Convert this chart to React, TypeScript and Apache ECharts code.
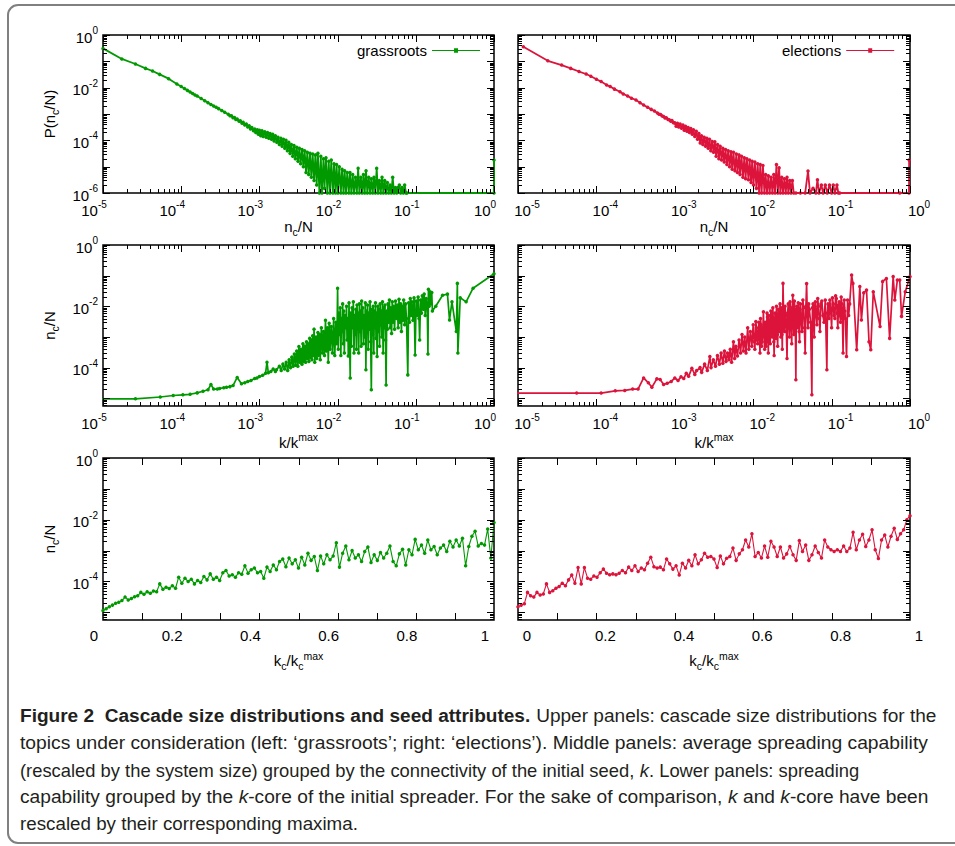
import React, { useEffect, useRef } from 'react';
import * as echarts from 'echarts';

// ---------------- colours / fonts ----------------
const GREEN = '#009a00';
const RED = '#dc143c';
const FONT = '"Liberation Sans", Arial, Helvetica, sans-serif';
const CAP_FAMILY = '"Liberation Sans Narrow", "Liberation Sans", Arial, sans-serif';

// ---------------- data ----------------
// Upper panels: cascade size distribution P(n_c/N) vs n_c/N
const grassrootsSizeDist: number[][] = [
  [1e-5, 0.31], [1.74e-5, 0.123], [2.6e-5, 0.079], [3.5e-5, 0.054], [4.3e-5, 0.043], [5.3e-5, 0.032], [6.9e-5, 0.022], [8.8e-5, 0.0138],
  [1e-4, 0.011], [1.1e-4, 0.0093], [1.2e-4, 0.0079], [1.3e-4, 0.0069], [1.4e-4, 0.006], [1.5e-4, 0.0053], [1.6e-4, 0.0048], [1.8e-4, 0.0039],
  [2e-4, 0.0032], [2.2e-4, 0.0027], [2.4e-4, 0.0023], [2.6e-4, 0.002], [2.8e-4, 0.0018], [3e-4, 0.0016], [3.3e-4, 0.00136], [3.6e-4, 0.00117],
  [4e-4, 0.00098], [4.2e-4, 0.00086], [4.4e-4, 0.00085], [4.6e-4, 0.00072], [4.8e-4, 0.00073], [5e-4, 0.00062], [5.2e-4, 0.00064], [5.5e-4, 0.00053],
  [5.7e-4, 0.00055], [6e-4, 0.00045], [6.2e-4, 0.00049], [6.5e-4, 0.00038], [6.8e-4, 0.00042], [7.1e-4, 0.00032], [7.4e-4, 0.00036], [7.7e-4, 0.00027],
  [8e-4, 0.00031], [8.4e-4, 0.00023], [8.7e-4, 0.00027], [9e-4, 0.0002], [9.4e-4, 0.00025], [9.7e-4, 0.00017],
  [1e-3, 2.4e-4], [1.04e-3, 1.5e-4], [1.08e-3, 2.3e-4], [1.12e-3, 1.4e-4], [1.17e-3, 2.1e-4], [1.22e-3, 1.3e-4], [1.27e-3, 2.0e-4], [1.32e-3, 1.2e-4],
  [1.37e-3, 1.8e-4], [1.43e-3, 1.1e-4], [1.48e-3, 1.7e-4], [1.54e-3, 9.5e-5], [1.6e-3, 1.5e-4], [1.67e-3, 8.5e-5], [1.73e-3, 1.3e-4], [1.8e-3, 7e-5],
  [1.88e-3, 1.2e-4], [1.95e-3, 6e-5], [2.03e-3, 1.1e-4], [2.11e-3, 5e-5], [2.19e-3, 1e-4], [2.28e-3, 4e-5], [2.37e-3, 8.5e-5], [2.47e-3, 3.2e-5],
  [2.56e-3, 7e-5], [2.67e-3, 2.5e-5], [2.77e-3, 6.3e-5], [2.88e-3, 2e-5], [3e-3, 5.5e-5], [3.12e-3, 1.6e-5], [3.24e-3, 5e-5], [3.37e-3, 1.3e-5],
  [3.51e-3, 4.5e-5], [3.65e-3, 1e-5], [3.79e-3, 4e-5], [3.95e-3, 6e-6], [4.1e-3, 3.5e-5], [4.27e-3, 5e-6], [4.44e-3, 3.2e-5], [4.62e-3, 4e-6],
  [4.8e-3, 3e-5], [5e-3, 3e-6], [5.2e-3, 2.8e-5], [5.4e-3, 2e-6], [5.6e-3, 3.2e-5], [5.85e-3, 1e-6], [6.1e-3, 2.5e-5], [6.3e-3, 1e-6],
  [6.6e-3, 2e-5], [6.8e-3, 1.5e-6], [7.1e-3, 2.2e-5], [7.4e-3, 1e-6], [7.7e-3, 1.6e-5], [8e-3, 1e-6], [8.3e-3, 1.8e-5], [8.7e-3, 1e-6],
  [9e-3, 1.3e-5], [9.4e-3, 1e-6], [9.7e-3, 1.2e-5], [1.01e-2, 1e-6], [1.05e-2, 1e-5], [1.1e-2, 1e-6], [1.14e-2, 8e-6], [1.19e-2, 1e-6],
  [1.23e-2, 7e-6], [1.28e-2, 1e-6], [1.33e-2, 6e-6], [1.39e-2, 1e-6], [1.44e-2, 6e-6], [1.5e-2, 1e-6], [1.56e-2, 5e-6], [1.62e-2, 1e-6],
  [1.69e-2, 4e-6], [1.76e-2, 1e-6], [1.83e-2, 8.7e-6], [1.9e-2, 1e-6], [1.98e-2, 4e-6], [2.06e-2, 1e-6], [2.14e-2, 5e-6], [2.22e-2, 1e-6],
  [2.31e-2, 7e-6], [2.4e-2, 1e-6], [2.5e-2, 4e-6], [2.6e-2, 1e-6], [2.7e-2, 3.5e-6], [2.81e-2, 1e-6], [2.92e-2, 4e-6], [3.04e-2, 1e-6],
  [3.16e-2, 8.7e-6], [3.29e-2, 1e-6], [3.42e-2, 3e-6], [3.56e-2, 1e-6], [3.7e-2, 4e-6], [3.85e-2, 1e-6], [4e-2, 3e-6], [4.16e-2, 1e-6],
  [4.33e-2, 2.5e-6], [4.5e-2, 1e-6], [4.68e-2, 2e-6], [4.87e-2, 1e-6], [5.06e-2, 4e-6], [5.27e-2, 1e-6], [5.48e-2, 1.6e-6], [5.7e-2, 1e-6],
  [5.92e-2, 1.6e-6], [6.16e-2, 2e-6], [6.4e-2, 1e-6], [6.66e-2, 1.6e-6], [6.93e-2, 1e-6], [7.2e-2, 2e-6], [7.5e-2, 1e-6], [7.7e-2, 1e-6],
  [1, 1e-6], [1, 1.8e-5],
];

const electionsSizeDist: number[][] = [
  [1.17e-5, 0.36], [2.4e-5, 0.105], [3.6e-5, 0.072], [4.7e-5, 0.054], [6e-5, 0.041], [7.4e-5, 0.033], [8.5e-5, 0.027], [1e-4, 0.021],
  [1.15e-4, 0.017], [1.35e-4, 0.0126], [1.5e-4, 0.011], [1.7e-4, 0.0088], [2e-4, 0.007], [2.2e-4, 0.0058], [2.5e-4, 0.0048], [2.8e-4, 0.004],
  [3.2e-4, 0.0034], [3.6e-4, 0.0027], [4e-4, 0.0022], [4.5e-4, 0.0018], [5e-4, 0.0015], [5.5e-4, 0.0013], [6e-4, 0.0011], [6.3e-4, 0.00098],
  [6.6e-4, 0.00095], [6.9e-4, 0.00084], [7.2e-4, 0.0008], [7.5e-4, 0.00071], [7.8e-4, 0.00072], [8.2e-4, 0.00062], [8.5e-4, 0.00061], [8.9e-4, 0.00053],
  [9.2e-4, 0.00057], [9.6e-4, 0.00047],
  [1e-3, 4.6e-4], [1.04e-3, 3.4e-4], [1.08e-3, 4.4e-4], [1.12e-3, 3.2e-4], [1.17e-3, 4.2e-4], [1.22e-3, 2.9e-4], [1.27e-3, 3.8e-4], [1.32e-3, 2.4e-4],
  [1.37e-3, 3.4e-4], [1.43e-3, 2.2e-4], [1.48e-3, 3.1e-4], [1.54e-3, 2e-4], [1.6e-3, 2.8e-4], [1.67e-3, 1.7e-4], [1.73e-3, 2.5e-4], [1.8e-3, 1.4e-4],
  [1.88e-3, 2.2e-4], [1.95e-3, 1.1e-4], [2.03e-3, 1.8e-4], [2.11e-3, 8e-5], [2.19e-3, 1.5e-4], [2.28e-3, 7e-5], [2.37e-3, 1.3e-4], [2.47e-3, 6e-5],
  [2.56e-3, 1.2e-4], [2.67e-3, 5e-5], [2.77e-3, 1.1e-4], [2.88e-3, 4e-5], [3e-3, 9e-5], [3.12e-3, 3.5e-5], [3.24e-3, 8.9e-5], [3.37e-3, 2.5e-5],
  [3.51e-3, 7e-5], [3.65e-3, 2e-5], [3.79e-3, 6e-5], [3.95e-3, 1.8e-5], [4.1e-3, 5e-5], [4.27e-3, 1.5e-5], [4.44e-3, 4.5e-5], [4.62e-3, 1.2e-5],
  [4.8e-3, 4e-5], [5e-3, 1e-5], [5.2e-3, 3.7e-5], [5.4e-3, 8e-6], [5.6e-3, 3.5e-5], [5.85e-3, 7e-6], [6.1e-3, 3e-5], [6.3e-3, 6e-6],
  [6.6e-3, 2.8e-5], [6.8e-3, 5e-6], [7.1e-3, 2.5e-5], [7.4e-3, 4e-6], [7.7e-3, 2.2e-5], [8e-3, 3.5e-6], [8.3e-3, 2e-5], [8.7e-3, 3.2e-6],
  [9e-3, 1.8e-5], [9.4e-3, 2.5e-6], [9.7e-3, 1.6e-5], [1.01e-2, 2e-6], [1.05e-2, 1.5e-5], [1.1e-2, 1.5e-6], [1.14e-2, 1.3e-5], [1.19e-2, 1e-6],
  [1.23e-2, 1.2e-5], [1.28e-2, 1e-6], [1.33e-2, 1.1e-5], [1.39e-2, 1e-6], [1.44e-2, 5e-6], [1.5e-2, 1e-6], [1.56e-2, 4.5e-6], [1.62e-2, 1e-6],
  [1.69e-2, 4e-6], [1.76e-2, 1e-6], [1.83e-2, 5e-6], [1.9e-2, 1e-6], [1.98e-2, 1.2e-5], [2.06e-2, 1e-6], [2.14e-2, 9e-6], [2.22e-2, 1e-6],
  [2.31e-2, 4e-6], [2.4e-2, 1e-6], [2.5e-2, 3.5e-6], [2.6e-2, 1e-6], [2.7e-2, 4e-6], [2.81e-2, 1e-6], [2.92e-2, 3e-6], [3.04e-2, 1e-6],
  [3.16e-2, 3e-6], [3.29e-2, 1e-6], [3.5e-2, 1e-6], [4e-2, 1e-6], [4.6e-2, 1e-6], [5e-2, 6.8e-6], [5.3e-2, 1e-6], [5.8e-2, 1.5e-6],
  [6.3e-2, 1e-6], [6.6e-2, 3.2e-6], [6.9e-2, 1e-6], [7.4e-2, 2e-6], [7.8e-2, 1e-6], [8.3e-2, 2e-6], [8.8e-2, 1e-6], [9.4e-2, 2e-6],
  [0.1, 1e-6], [0.105, 2e-6], [0.11, 1e-6], [0.117, 2e-6], [0.122, 1e-6], [0.127, 1e-6], [0.74, 1e-6], [0.97, 1e-6], [0.975, 1.8e-5],
];

// Middle panels: n_c/N vs k/k^max
const grassrootsByDegree: number[][] = [
  [8e-6, 9.5e-6], [2.6e-5, 9.6e-6], [5.4e-5, 1.1e-5], [7.9e-5, 1.23e-5], [1.05e-4, 1.3e-5], [1.3e-4, 1.35e-5], [1.6e-4, 1.5e-5], [1.9e-4, 1.7e-5],
  [2.2e-4, 1.9e-5], [2.4e-4, 2.8e-5], [2.6e-4, 2e-5], [2.9e-4, 2e-5], [3.1e-4, 2.1e-5], [3.5e-4, 2.2e-5], [3.8e-4, 2.3e-5], [4.2e-4, 2.4e-5],
  [4.6e-4, 2.6e-5], [5.2e-4, 4.8e-5], [5.9e-4, 3e-5], [6.5e-4, 3.2e-5], [7.1e-4, 3.5e-5], [7.8e-4, 3.8e-5], [8.7e-4, 4.4e-5], [9.3e-4, 4.6e-5],
  [1e-3, 5.1e-5], [1.1e-3, 5.6e-5], [1.2e-3, 6.6e-5], [1.25e-3, 1.5e-4], [1.3e-3, 6.8e-5], [1.4e-3, 7.5e-5], [1.5e-3, 9e-5], [1.6e-3, 7.5e-5],
  [1.65e-3, 8.5e-5], [1.8e-3, 1.1e-4], [1.9e-3, 8e-5], [2e-3, 1.3e-4], [2.1e-3, 9e-5], [2.2e-3, 1.5e-4], [2.3e-3, 8e-5], [2.4e-3, 1.8e-4],
  [2.5e-3, 1e-4], [2.6e-3, 2.2e-4], [2.7e-3, 1.1e-4], [2.8e-3, 2.8e-4], [2.9e-3, 1.2e-4], [3e-3, 3.5e-4], [3.1e-3, 1.1e-4], [3.2e-3, 4.9e-4],
  [3.3e-3, 1.5e-4], [3.4e-3, 4e-4], [3.5e-3, 1.3e-4], [3.6e-3, 6e-4], [3.7e-3, 1.6e-4], [3.8e-3, 5e-4], [3.9e-3, 1.5e-4], [4e-3, 7e-4],
  [4.1e-3, 2e-4], [4.2e-3, 6e-4], [4.3e-3, 1.6e-4], [4.4e-3, 9e-4], [4.5e-3, 2.2e-4], [4.6e-3, 8e-4], [4.7e-3, 1.8e-4], [4.8e-3, 1.1e-3],
  [4.9e-3, 2.5e-4], [5e-3, 1.8e-3], [5.1e-3, 1.5e-4], [5.3e-3, 1e-3], [5.4e-3, 2e-4], [5.6e-3, 1.4e-3], [5.7e-3, 2.5e-4], [5.9e-3, 1.2e-3],
  [6e-3, 1.8e-4], [6.2e-3, 2e-3], [6.4e-3, 3e-4], [6.6e-3, 1.5e-3], [6.8e-3, 2.5e-4], [7e-3, 3.5e-3], [7.2e-3, 3.5e-4], [7.4e-3, 2e-3],
  [7.6e-3, 1.5e-4], [7.8e-3, 2.8e-3], [8e-3, 4e-4], [8.3e-3, 2.2e-3], [8.6e-3, 3e-4], [8.9e-3, 4e-3], [9.2e-3, 2.5e-4], [9.5e-3, 3e-3],
  [9.8e-3, 6e-4], [1e-2, 3.9e-2], [1.02e-2, 4e-4], [1.04e-2, 6e-3], [1.06e-2, 1.2e-3], [1.08e-2, 9e-3], [1.1e-2, 2.5e-4], [1.12e-2, 4e-3],
  [1.14e-2, 1.5e-3], [1.16e-2, 1.2e-2], [1.18e-2, 6e-4], [1.2e-2, 7e-3], [1.22e-2, 3e-4], [1.25e-2, 5e-3], [1.27e-2, 2e-3], [1.3e-2, 1e-2],
  [1.32e-2, 8e-4], [1.35e-2, 4e-3], [1.37e-2, 2.4e-4], [1.4e-2, 1.3e-2], [1.42e-2, 1e-3], [1.45e-2, 4.6e-5], [1.47e-2, 6e-3], [1.5e-2, 5e-4],
  [1.53e-2, 9e-3], [1.56e-2, 2e-3], [1.59e-2, 1.4e-2], [1.62e-2, 3e-4], [1.65e-2, 5e-3], [1.68e-2, 1.2e-3], [1.71e-2, 8e-3], [1.74e-2, 4e-4],
  [1.77e-2, 1.1e-2], [1.8e-2, 2.5e-3], [1.83e-2, 6e-3], [1.86e-2, 3e-4], [1.9e-2, 1.2e-2], [1.93e-2, 1.5e-3], [1.96e-2, 7e-3], [2e-2, 5e-4],
  [2.03e-2, 1.5e-2], [2.07e-2, 2e-3], [2.1e-2, 9e-3], [2.14e-2, 6e-4], [2.18e-2, 5e-3], [2.22e-2, 1e-3], [2.26e-2, 1.3e-2], [2.3e-2, 8.5e-5],
  [2.34e-2, 7e-3], [2.38e-2, 2.5e-3], [2.42e-2, 1.1e-2], [2.46e-2, 4e-4], [2.5e-2, 6e-3], [2.55e-2, 1.8e-3], [2.6e-2, 1.4e-2], [2.65e-2, 7e-4],
  [2.7e-2, 1.9e-5], [2.75e-2, 8e-3], [2.8e-2, 1.2e-3], [2.85e-2, 1e-2], [2.9e-2, 3e-4], [2.95e-2, 7e-3], [3e-2, 2e-3], [3.05e-2, 1.3e-2],
  [3.1e-2, 9e-4], [3.15e-2, 6e-3], [3.2e-2, 2.3e-4], [3.26e-2, 1e-2], [3.32e-2, 1.5e-3], [3.38e-2, 8e-3], [3.44e-2, 5e-4], [3.5e-2, 1.2e-2],
  [3.56e-2, 2.5e-3], [3.62e-2, 7e-3], [3.68e-2, 1e-3], [3.75e-2, 1.4e-2], [3.82e-2, 3e-4], [3.89e-2, 9e-3], [3.96e-2, 2e-3], [4.03e-2, 1.1e-2],
  [4.1e-2, 8e-4], [4.17e-2, 2.7e-5], [4.25e-2, 7e-3], [4.33e-2, 1.8e-3], [4.41e-2, 1.2e-2], [4.5e-2, 3e-3], [4.6e-2, 1.6e-2], [4.7e-2, 2e-3],
  [4.8e-2, 9e-3], [4.9e-2, 1.3e-3], [5e-2, 1.4e-2], [5.1e-2, 3e-3], [5.2e-2, 1e-2], [5.35e-2, 1.8e-3], [5.5e-2, 1.5e-2], [5.65e-2, 4e-3],
  [5.8e-2, 1.1e-2], [5.95e-2, 2e-3], [6.1e-2, 1.7e-2], [6.25e-2, 3e-3], [6.4e-2, 1.2e-2], [6.55e-2, 1.5e-3], [6.7e-2, 1e-2], [6.85e-2, 3.5e-3],
  [7e-2, 1.6e-2], [7.2e-2, 2.5e-3], [7.4e-2, 1.2e-2], [7.6e-2, 4e-3], [7.9e-2, 5.8e-5], [8.1e-2, 1.3e-2], [8.3e-2, 3e-3], [8.5e-2, 1.8e-2],
  [8.7e-2, 5e-3], [8.9e-2, 1.4e-2], [9.2e-2, 3.5e-3], [9.5e-2, 1.9e-2], [9.8e-2, 2.6e-4], [0.101, 1.5e-2], [0.104, 5e-3], [0.107, 2e-2],
  [0.11, 4e-3], [0.112, 8e-4], [0.115, 1.6e-2], [0.118, 6e-3], [0.121, 2.2e-2], [0.125, 8e-3], [0.128, 2.5e-2], [0.132, 5e-3],
  [0.136, 1.8e-2], [0.14, 1e-2], [0.143, 2.8e-4], [0.145, 3.6e-2], [0.148, 1e-2], [0.152, 3e-2], [0.156, 1.2e-2], [0.16, 2.8e-2],
  [0.163, 7e-3], [0.18, 0.01], [0.22, 0.023], [0.254, 0.025], [0.27, 3.6e-3], [0.29, 0.014], [0.33, 1.5e-3], [0.34, 0.056],
  [0.345, 3e-4], [0.37, 0.019], [0.44, 0.014], [0.54, 0.039], [1, 0.115],
];

const electionsByDegree: number[][] = [
  [8e-6, 1.48e-5], [5.6e-5, 1.48e-5], [1.15e-4, 1.48e-5], [1.74e-4, 1.75e-5], [2.3e-4, 1.8e-5], [2.9e-4, 2e-5], [3.4e-4, 2e-5], [4e-4, 4.6e-5],
  [4.6e-4, 3.2e-5], [5.1e-4, 2.3e-5], [5.9e-4, 4.3e-5], [6.5e-4, 4.1e-5], [7.2e-4, 2.8e-5], [8e-4, 3.1e-5], [9e-4, 3.5e-5], [1e-3, 4.6e-5],
  [1.1e-3, 3.8e-5], [1.2e-3, 5e-5], [1.3e-3, 4.4e-5], [1.4e-3, 6.5e-5], [1.5e-3, 5.2e-5], [1.65e-3, 9.5e-5], [1.8e-3, 6e-5], [1.9e-3, 8e-5],
  [2.1e-3, 1e-4], [2.2e-3, 7e-5], [2.4e-3, 1.3e-4], [2.6e-3, 8e-5], [2.8e-3, 2.3e-4], [2.9e-3, 1e-4], [3.1e-3, 1.8e-4], [3.3e-3, 1.1e-4],
  [3.5e-3, 2.5e-4], [3.7e-3, 1.3e-4], [3.9e-3, 3e-4], [4.1e-3, 1.4e-4], [4.3e-3, 3.5e-4], [4.5e-3, 1.6e-4], [4.7e-3, 3e-4], [4.9e-3, 1.8e-4],
  [5.1e-3, 4e-4], [5.3e-3, 1.5e-4], [5.6e-3, 7e-4], [5.8e-3, 2e-4], [6e-3, 5e-4], [6.3e-3, 2.4e-4], [6.6e-3, 8e-4], [6.9e-3, 3e-4],
  [7.2e-3, 1.2e-3], [7.5e-3, 3.5e-4], [7.8e-3, 1e-3], [8.1e-3, 3e-4], [8.5e-3, 2e-3], [8.8e-3, 4e-4], [9.2e-3, 1.5e-3], [9.6e-3, 5e-4],
  [1e-2, 2.5e-3], [1.03e-2, 7e-4], [1.05e-2, 4e-4], [1.08e-2, 3.2e-3], [1.1e-2, 2e-3], [1.12e-2, 8e-4], [1.14e-2, 6e-4], [1.16e-2, 1.5e-3],
  [1.18e-2, 3e-3], [1.2e-2, 1.2e-3], [1.22e-2, 3e-4], [1.24e-2, 4e-3], [1.26e-2, 2.5e-3], [1.28e-2, 5e-4], [1.3e-2, 7e-4], [1.33e-2, 2e-3],
  [1.35e-2, 6.7e-3], [1.37e-2, 1.2e-3], [1.4e-2, 4e-4], [1.42e-2, 3e-3], [1.44e-2, 2.2e-3], [1.46e-2, 5e-4], [1.48e-2, 8e-4], [1.5e-2, 6e-3],
  [1.52e-2, 4.5e-3], [1.54e-2, 1e-3], [1.56e-2, 3e-4], [1.58e-2, 5e-3], [1.6e-2, 3e-3], [1.62e-2, 1.5e-3], [1.65e-2, 6e-4], [1.68e-2, 7e-3],
  [1.7e-2, 5e-3], [1.72e-2, 2e-3], [1.75e-2, 1e-3], [1.78e-2, 9e-3], [1.8e-2, 4e-3], [1.83e-2, 7e-4], [1.85e-2, 2.5e-4], [1.88e-2, 3e-3],
  [1.9e-2, 6e-3], [1.93e-2, 1.8e-3], [1.95e-2, 9e-4], [1.98e-2, 1e-2], [2e-2, 4e-3], [2.03e-2, 1.2e-3], [2.05e-2, 5e-4], [2.08e-2, 3e-3],
  [2.1e-2, 8e-3], [2.13e-2, 2.5e-3], [2.15e-2, 1.5e-3], [2.18e-2, 5e-3], [2.2e-2, 1.2e-2], [2.23e-2, 2e-3], [2.25e-2, 1e-3], [2.28e-2, 9e-3],
  [2.3e-2, 6e-3], [2.33e-2, 1.2e-3], [2.35e-2, 4e-4], [2.38e-2, 7e-3], [2.4e-2, 5.6e-2], [2.45e-2, 3e-3], [2.5e-2, 1.5e-3], [2.55e-2, 1e-2],
  [2.6e-2, 5e-3], [2.65e-2, 1.5e-3], [2.7e-2, 2e-4], [2.75e-2, 6e-3], [2.8e-2, 1.2e-2], [2.85e-2, 3e-3], [2.9e-2, 1e-3], [2.95e-2, 1.4e-2],
  [3e-2, 7e-3], [3.05e-2, 2e-3], [3.1e-2, 6e-4], [3.15e-2, 9e-3], [3.2e-2, 2.3e-2], [3.25e-2, 4e-3], [3.3e-2, 1.2e-3], [3.35e-2, 1.5e-2],
  [3.4e-2, 8e-3], [3.45e-2, 2e-3], [3.5e-2, 4e-5], [3.55e-2, 6e-3], [3.6e-2, 1e-2], [3.65e-2, 3e-3], [3.7e-2, 2e-3], [3.75e-2, 1.3e-2],
  [3.8e-2, 6e-3], [3.85e-2, 1.5e-3], [3.9e-2, 7e-4], [3.95e-2, 8e-3], [4e-2, 1.2e-2], [4.1e-2, 3e-3], [4.2e-2, 1.5e-3], [4.3e-2, 1.6e-2],
  [4.4e-2, 9e-3], [4.5e-2, 2e-3], [4.6e-2, 3e-4], [4.7e-2, 1e-2], [4.8e-2, 5.5e-2], [4.9e-2, 5e-3], [5e-2, 2e-3], [5.1e-2, 1.2e-2],
  [5.2e-2, 8e-3], [5.4e-2, 3e-3], [5.6e-2, 1.3e-5], [5.7e-2, 9e-3], [5.8e-2, 1.2e-2], [5.9e-2, 4e-3], [6e-2, 1e-3], [6.1e-2, 1e-2],
  [6.2e-2, 1.4e-2], [6.35e-2, 5e-3], [6.5e-2, 2.5e-3], [6.65e-2, 1.8e-2], [6.8e-2, 1e-2], [6.95e-2, 4e-3], [7.1e-2, 1.5e-3], [7.3e-2, 1.2e-2],
  [7.5e-2, 1.5e-2], [7.75e-2, 5e-3], [8e-2, 3e-3], [8.3e-2, 1.6e-2], [8.7e-2, 8.5e-5], [8.85e-2, 6e-3], [9e-2, 1.2e-2], [9.25e-2, 4e-3],
  [9.5e-2, 1.6e-2], [9.75e-2, 7e-3], [0.1, 2e-3], [0.1025, 1.9e-2], [0.105, 1.2e-2], [0.1075, 5e-3], [0.11, 4e-3], [0.1125, 2.2e-2],
  [0.115, 1.8e-2], [0.1175, 6e-3], [0.12, 2e-3], [0.1225, 1.1e-2], [0.125, 1.4e-2], [0.1275, 5e-3], [0.13, 3e-3], [0.1325, 2e-2],
  [0.135, 1.2e-2], [0.1375, 4e-3], [0.14, 3e-4], [0.1425, 9e-3], [0.145, 1.6e-2], [0.1475, 7e-3], [0.15, 4e-3], [0.155, 2.3e-4],
  [0.16, 1.6e-2], [0.165, 5e-3], [0.17, 1.2e-2], [0.18, 0.105], [0.187, 0.056], [0.209, 3.8e-4], [0.229, 0.044], [0.24, 3.6e-3],
  [0.257, 0.0275], [0.279, 0.034], [0.3, 7e-4], [0.316, 3.8e-4], [0.34, 0.03], [0.415, 2.2e-3], [0.447, 0.065], [0.5, 0.081],
  [0.55, 9e-4], [0.61, 0.093], [0.64, 0.016], [0.69, 0.072], [0.74, 0.072], [0.78, 4.7e-3], [0.87, 0.03], [1, 0.093],
];

// Lower panels: n_c/N for successive k-core shells (k_c/k_c^max from 0 to 1)
const grassrootsByCore: number[] = [
  1.13e-5, 1.3e-5, 1.5e-5, 1.7e-5, 1.96e-5, 2.1e-5, 2.4e-5, 3.1e-5, 2.5e-5, 2.8e-5,
  3.2e-5, 3.4e-5, 4.4e-5, 3.8e-5, 4.6e-5, 4.1e-5, 4.9e-5, 4.6e-5, 8.3e-5, 5.6e-5,
  6.5e-5, 5.9e-5, 7.2e-5, 6.0e-5, 1.37e-4, 8.7e-5, 1.27e-4, 9.9e-5, 1.18e-4, 8.3e-5,
  1.07e-4, 9.2e-5, 1.45e-4, 1.12e-4, 1.75e-4, 1.18e-4, 1.37e-4, 1.07e-4, 1.9e-4, 2.25e-4,
  1.5e-4, 1.65e-4, 1.37e-4, 1.9e-4, 1.7e-4, 3.2e-4, 1.85e-4, 2.4e-4, 2.7e-4, 1.9e-4,
  2.1e-4, 1.27e-4, 2.9e-4, 2.1e-4, 3.4e-4, 2.4e-4, 4.4e-4, 5.3e-4, 3.0e-4, 5.7e-4,
  3.7e-4, 5.0e-4, 2.7e-4, 6.1e-4, 3.4e-4, 8.2e-4, 4.8e-4, 6.4e-4, 2.25e-4, 6.7e-4,
  3.7e-4, 7.3e-4, 5.0e-4, 6.7e-4, 1.8e-3, 2.9e-4, 8.2e-4, 1.4e-3, 5.0e-4, 1.0e-3,
  5.7e-4, 7.3e-4, 4.4e-4, 9.3e-4, 1.3e-3, 4.1e-4, 7.3e-4, 4.8e-4, 8.6e-4, 5.7e-4,
  8.2e-4, 1.4e-3, 4.4e-4, 3.2e-4, 7.8e-4, 1.1e-3, 3.4e-4, 1.06e-3, 7.3e-4, 2.3e-3,
  1.06e-3, 1.5e-3, 8.2e-4, 2.2e-3, 1.06e-3, 1.35e-3, 7.3e-4, 1.2e-3, 1.5e-3, 9.3e-4,
  2.0e-3, 1.3e-3, 2.2e-3, 1.4e-3, 2.5e-3, 3.2e-4, 1.35e-3, 2.9e-3, 4.2e-3, 1.4e-3,
  1.7e-3, 1.5e-3, 5.0e-3, 5.7e-4, 8.1e-3,
];

const electionsByCore: number[] = [
  1.5e-5, 1.7e-5, 1.87e-5, 4.4e-5, 3.4e-5, 3.1e-5, 4.4e-5, 3.6e-5, 3.9e-5, 8.3e-5,
  4.4e-5, 5.0e-5, 6.0e-5, 6.8e-5, 8.7e-5, 7.2e-5, 1.12e-4, 1.6e-4, 8.7e-5, 2.8e-4,
  8.3e-5, 2.8e-4, 1.27e-4, 1.18e-4, 1.5e-4, 1.37e-4, 1.9e-4, 2.5e-4, 1.85e-4, 1.65e-4,
  1.75e-4, 1.65e-4, 1.85e-4, 2.25e-4, 1.9e-4, 2.9e-4, 2.25e-4, 3.2e-4, 2.1e-4, 2.7e-4,
  2.4e-4, 3.9e-4, 6.1e-4, 3.0e-4, 2.7e-4, 2.9e-4, 2.4e-4, 5.3e-4, 3.7e-4, 2.5e-4,
  3.2e-4, 1.6e-4, 3.9e-4, 2.7e-4, 4.8e-4, 3.2e-4, 7.3e-4, 3.7e-4, 5.0e-4, 8.2e-4,
  6.1e-4, 6.4e-4, 5.3e-4, 2.8e-4, 6.7e-4, 3.7e-4, 5.6e-4, 6.4e-4, 1.2e-3, 4.8e-4,
  7.8e-4, 1.06e-3, 2.2e-3, 1.3e-3, 3.5e-3, 6.4e-4, 8.6e-4, 5.7e-4, 1.4e-3, 6.1e-4,
  2.0e-3, 1.3e-3, 6.4e-4, 1.3e-3, 5.7e-4, 7.8e-4, 1.35e-3, 7.3e-4, 4.8e-4, 2.1e-3,
  9.3e-4, 1.5e-3, 4.8e-4, 7.3e-4, 1.4e-3, 8.6e-4, 5.7e-4, 2.2e-3, 1.3e-3, 1.06e-3,
  9.3e-4, 1.06e-3, 9.3e-4, 1.4e-3, 9.3e-4, 1.2e-3, 3.9e-3, 1.06e-3, 2.2e-3, 3.4e-3,
  1.35e-3, 2.2e-3, 4.7e-3, 1.06e-3, 5.5e-4, 2.2e-3, 3.2e-3, 1.3e-3, 2.9e-3, 5.3e-3,
  2.3e-3, 3.5e-3, 4.7e-3, 1.0e-2, 1.35e-2,
];

// rescaled k-core index of each shell: k_c / k_c^max
const coreShells = (vals: number[]) => vals.map((v, i) => [i / (vals.length - 1), v]);

// tick structure
const MINOR_MANTISSAS = [2, 3, 4, 5, 6, 7, 8, 9];
const LINEAR_TICKS = [0.1, 0.2, 0.3, 0.4, 0.5, 0.6, 0.7, 0.8, 0.9];
const Y_MIN_TOP = 1e-6;
const Y_MIN_LOW = 5.6e-6;

// ---------------- helpers ----------------
const decades = (lo: number, hi: number) => {
  const out: number[] = [];
  for (let e = lo; e <= hi; e++) out.push(Math.pow(10, e));
  return out;
};
const minors = (lo: number, hi: number, min: number) => {
  const out: number[] = [];
  for (let e = lo; e < hi; e++) for (const m of MINOR_MANTISSAS) {
    const v = m * Math.pow(10, e);
    if (v >= min) out.push(v);
  }
  return out;
};

const SUP_RICH = {
  b: { fontSize: 15, fontFamily: FONT, color: '#000', verticalAlign: 'bottom' },
  s: { fontSize: 10, fontFamily: FONT, color: '#000', verticalAlign: 'top', padding: [0, 0, 9, 0] },
};
const NAME_RICH = {
  n: { fontSize: 15, fontFamily: FONT, color: '#000', verticalAlign: 'middle' },
  c: { fontSize: 10.5, fontFamily: FONT, color: '#000', verticalAlign: 'bottom', padding: [10, 0, 0, 0] },
  s: { fontSize: 10.5, fontFamily: FONT, color: '#000', verticalAlign: 'top', padding: [0, 0, 10, 0] },
};

const logLabel = (evenOnly: boolean) => (v: number) => {
  const l = Math.log10(v);
  const e = Math.round(l);
  if (Math.abs(l - e) > 1e-6) return '';
  if (evenOnly && e % 2 !== 0) return '';
  return `{b|10}{s|${e}}`;
};

const GRIDS = [
  { left: 103, top: 35, width: 391, height: 158 },
  { left: 518, top: 35, width: 392, height: 158 },
  { left: 103, top: 245, width: 391, height: 161 },
  { left: 518, top: 245, width: 392, height: 161 },
  { left: 103, top: 458, width: 391, height: 162 },
  { left: 518, top: 458, width: 392, height: 162 },
];

const shiftPad = (side: string) => (side === 'left' ? [0, 18, 0, 0] : [0, 0, 0, 18]);

function logXAxis(gi: number, side: string, name: string, nameGap: number) {
  return {
    type: 'log', logBase: 10, gridIndex: gi, min: 1e-5, max: 1,
    axisLine: { show: false }, axisTick: { show: false }, splitLine: { show: false },
    axisLabel: {
      formatter: logLabel(false), rich: SUP_RICH, margin: 6, padding: shiftPad(side),
      showMinLabel: true, showMaxLabel: true, color: '#000',
    },
    name, nameLocation: 'middle', nameGap,
    nameTextStyle: { rich: NAME_RICH, fontFamily: FONT, fontSize: 15, color: '#000' },
  };
}
function linXAxis(gi: number, side: string, name: string, nameGap: number) {
  return {
    type: 'value', gridIndex: gi, min: 0, max: 1, interval: 0.2,
    axisLine: { show: false }, axisTick: { show: false }, splitLine: { show: false },
    axisLabel: {
      fontSize: 15, fontFamily: FONT, color: '#000', margin: 8, padding: shiftPad(side),
      showMinLabel: true, showMaxLabel: true,
      formatter: (v: number) => String(Math.round(v * 10) / 10),
    },
    name, nameLocation: 'middle', nameGap,
    nameTextStyle: { rich: NAME_RICH, fontFamily: FONT, fontSize: 15, color: '#000' },
  };
}
function logYAxis(gi: number, min: number, showLabels: boolean, name: string) {
  return {
    type: 'log', logBase: 10, gridIndex: gi, min, max: 1,
    axisLine: { show: false }, axisTick: { show: false }, splitLine: { show: false },
    axisLabel: {
      show: showLabels, formatter: logLabel(true), rich: SUP_RICH, margin: 5, color: '#000',
      showMinLabel: true, showMaxLabel: true,
    },
    name: showLabels ? name : '', nameLocation: 'middle', nameGap: 43,
    nameTextStyle: { rich: NAME_RICH, fontFamily: FONT, fontSize: 15, color: '#000' },
  };
}

function renderTicks(params: any, api: any) {
  const cs = params.coordSys;
  const kind = api.value(2);
  const pt = api.coord([api.value(0), api.value(1)]);
  const style = { stroke: '#000', lineWidth: 1 };
  if (kind === 0 || kind === 1) {
    const len = kind === 0 ? 7 : 4;
    const x = Math.round(pt[0]) + 0.5;
    return {
      type: 'group', children: [
        { type: 'line', shape: { x1: x, y1: cs.y + cs.height, x2: x, y2: cs.y + cs.height - len }, style },
        { type: 'line', shape: { x1: x, y1: cs.y, x2: x, y2: cs.y + len }, style },
      ],
    };
  }
  const len = kind === 2 ? 7 : 4;
  const y = Math.round(pt[1]) + 0.5;
  return {
    type: 'group', children: [
      { type: 'line', shape: { x1: cs.x, y1: y, x2: cs.x + len, y2: y }, style },
      { type: 'line', shape: { x1: cs.x + cs.width, y1: y, x2: cs.x + cs.width - len, y2: y }, style },
    ],
  };
}

function tickSeries(gi: number, logX: boolean, yMin: number) {
  const x0 = logX ? 1e-5 : 0;
  const xMaj = logX ? decades(-5, 0) : LINEAR_TICKS;
  const xMin = logX ? minors(-5, 0, 1e-5) : [];
  const yMaj = decades(Math.ceil(Math.log10(yMin) - 1e-9), 0);
  const yMinr = minors(-6, 0, yMin);
  const data = [
    ...xMaj.map((v) => [v, yMin, 0]),
    ...xMin.map((v) => [v, yMin, 1]),
    ...yMaj.map((v) => [x0, v, 2]),
    ...yMinr.map((v) => [x0, v, 3]),
  ];
  return {
    type: 'custom', xAxisIndex: gi, yAxisIndex: gi, silent: true, z: 5, clip: false,
    renderItem: renderTicks, data, encode: { x: 0, y: 1 },
  };
}

function lineSeries(gi: number, name: string, data: number[][], color: string, width: number) {
  return {
    type: 'line', name, xAxisIndex: gi, yAxisIndex: gi, data,
    symbol: 'circle', symbolSize: 3.5, showSymbol: true,
    lineStyle: { color, width }, itemStyle: { color },
    clip: true, z: 3,
  };
}

// ---------------- caption ----------------
const CAP_SIZE = 18.5;
const CAP_COLOR = '#231f20';
const captionLines: { y: number; right: number; parts: string[][] }[] = [
  { y: 716, right: 937, parts: [['b', 'Figure 2\u00a0 Cascade size distributions and seed attributes. '], ['r', 'Upper panels: cascade size distributions for the']] },
  { y: 743, right: 928, parts: [['r', 'topics under consideration (left: \u2018grassroots\u2019; right: \u2018elections\u2019). Middle panels: average spreading capability']] },
  { y: 770, right: 859, parts: [['r', '(rescaled by the system size) grouped by the connectivity of the initial seed, '], ['i', 'k'], ['r', '. Lower panels: spreading']] },
  { y: 797, right: 929, parts: [['r', 'capability grouped by the '], ['i', 'k'], ['r', '-core of the initial spreader. For the sake of comparison, '], ['i', 'k '], ['r', 'and '], ['i', 'k'], ['r', '-core have been']] },
  { y: 824, right: 358, parts: [['r', 'rescaled by their corresponding maxima.']] },
];
const CAP_FONTS: Record<string, string> = {
  b: `bold ${CAP_SIZE}px ${CAP_FAMILY}`,
  r: `${CAP_SIZE}px ${CAP_FAMILY}`,
  i: `italic ${CAP_SIZE}px ${CAP_FAMILY}`,
};
const CAP_RICH = {
  b: { fontWeight: 'bold', fontSize: CAP_SIZE, fontFamily: CAP_FAMILY, fill: CAP_COLOR },
  r: { fontSize: CAP_SIZE, fontFamily: CAP_FAMILY, fill: CAP_COLOR },
  i: { fontStyle: 'italic', fontSize: CAP_SIZE, fontFamily: CAP_FAMILY, fill: CAP_COLOR },
};

function captionGraphics() {
  const ctx = document.createElement('canvas').getContext('2d') as CanvasRenderingContext2D;
  const left = 20;
  return captionLines.map((line) => {
    let w = 0;
    for (const [s, t] of line.parts) {
      ctx.font = CAP_FONTS[s];
      w += ctx.measureText(t).width;
    }
    const scale = w > 0 ? (line.right - left) / w : 1;
    return {
      type: 'text', x: left, y: line.y, scaleX: scale, silent: true,
      style: {
        text: line.parts.map(([s, t]) => `{${s}|${t}}`).join(''),
        rich: CAP_RICH, verticalAlign: 'middle', fill: CAP_COLOR,
        fontSize: CAP_SIZE, fontFamily: CAP_FAMILY,
      },
    };
  });
}

const LEGEND_ICON = 'path://M0,4.5H48V5.5H0Z M22,2.8H26V7.2H22Z';

function buildOption() {
  const legendBase = {
    orient: 'horizontal', align: 'right', itemWidth: 48, itemHeight: 10, selectedMode: false,
    textStyle: { fontSize: 15, fontFamily: FONT, color: '#000' }, padding: 0,
  };
  return {
    animation: false,
    backgroundColor: '#fff',
    grid: GRIDS.map((g) => ({ ...g, show: true, borderColor: '#000', borderWidth: 1.5, backgroundColor: 'transparent' })),
    legend: [
      { ...legendBase, data: [{ name: 'grassroots', icon: LEGEND_ICON }], left: 357, top: 43 },
      { ...legendBase, data: [{ name: 'elections', icon: LEGEND_ICON }], left: 782, top: 43 },
    ],
    xAxis: [
      logXAxis(0, 'left', '{n|n}{c|c}{n|/N}', 23),
      logXAxis(1, 'right', '{n|n}{c|c}{n|/N}', 23),
      logXAxis(2, 'left', '{n|k/k}{s|max}', 20),
      logXAxis(3, 'right', '{n|k/k}{s|max}', 20),
      linXAxis(4, 'left', '{n|k}{c|c}{n|/k}{c|c}{s|max}', 30),
      linXAxis(5, 'right', '{n|k}{c|c}{n|/k}{c|c}{s|max}', 30),
    ],
    yAxis: [
      logYAxis(0, Y_MIN_TOP, true, '{n|P(n}{c|c}{n|/N)}'),
      logYAxis(1, Y_MIN_TOP, false, ''),
      logYAxis(2, Y_MIN_LOW, true, '{n|n}{c|c}{n|/N}'),
      logYAxis(3, Y_MIN_LOW, false, ''),
      logYAxis(4, Y_MIN_LOW, true, '{n|n}{c|c}{n|/N}'),
      logYAxis(5, Y_MIN_LOW, false, ''),
    ],
    series: [
      lineSeries(0, 'grassroots', grassrootsSizeDist, GREEN, 1.8),
      lineSeries(1, 'elections', electionsSizeDist, RED, 1.8),
      lineSeries(2, 'grassroots (k)', grassrootsByDegree, GREEN, 1.7),
      lineSeries(3, 'elections (k)', electionsByDegree, RED, 1.7),
      lineSeries(4, 'grassroots (k-core)', coreShells(grassrootsByCore), GREEN, 1.1),
      lineSeries(5, 'elections (k-core)', coreShells(electionsByCore), RED, 1.1),
      tickSeries(0, true, Y_MIN_TOP),
      tickSeries(1, true, Y_MIN_TOP),
      tickSeries(2, true, Y_MIN_LOW),
      tickSeries(3, true, Y_MIN_LOW),
      tickSeries(4, false, Y_MIN_LOW),
      tickSeries(5, false, Y_MIN_LOW),
    ],
    graphic: [
      {
        type: 'rect', silent: true, z: -1,
        shape: { x: 8, y: 5, width: 1000, height: 838, r: 10 },
        style: { fill: 'none', stroke: '#808080', lineWidth: 2 },
      },
      ...captionGraphics(),
    ],
  };
}

export default function App() {
  const ref = useRef<HTMLDivElement>(null);
  useEffect(() => {
    if (!ref.current) return;
    const chart = echarts.init(ref.current, null, { renderer: 'svg' });
    chart.setOption(buildOption() as any);
    return () => chart.dispose();
  }, []);
  return (
    <div
      ref={ref}
      style={{ position: 'absolute', left: 0, top: 0, width: 955, height: 846, background: '#fff' }}
    />
  );
}
